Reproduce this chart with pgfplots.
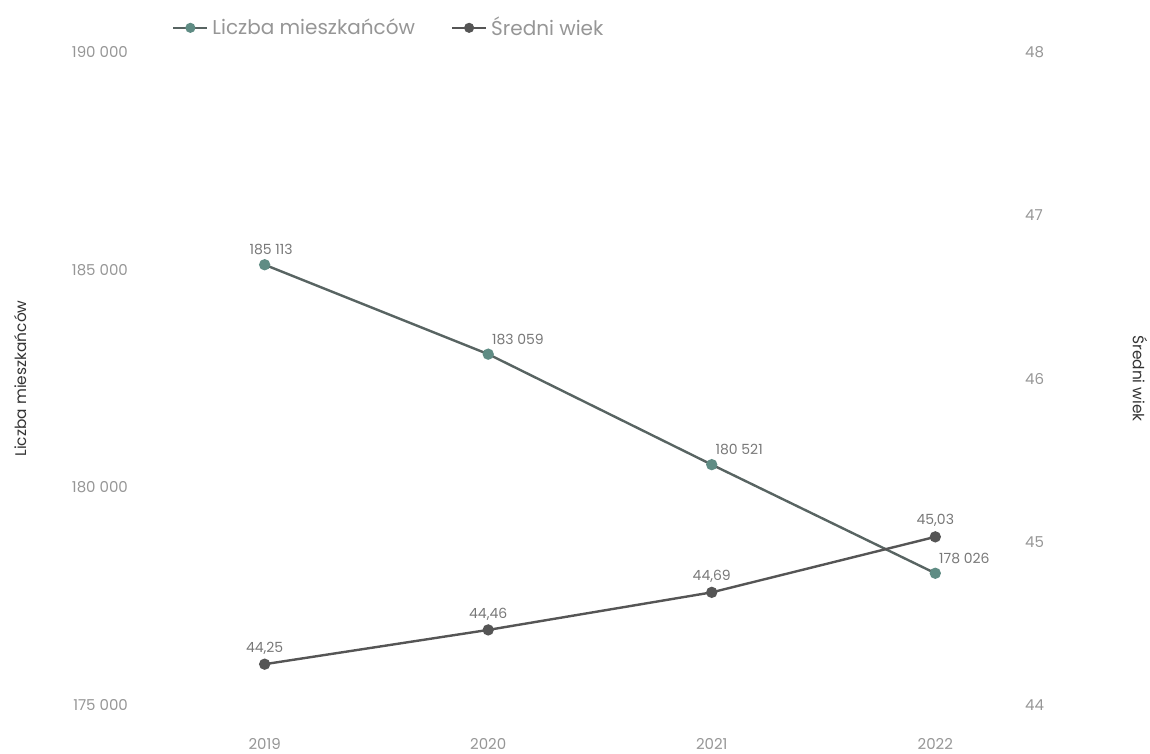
\documentclass[border=0pt]{standalone}
\usepackage{pgfplots}
\pgfplotsset{compat=1.18}
\usetikzlibrary{calc}
\usepackage{fontspec}
\setmainfont{Poppins}
\definecolor{txt}{RGB}{150,150,150}
\definecolor{lbl}{RGB}{120,120,120}
\definecolor{lineA}{RGB}{88,100,98}
\definecolor{markA}{RGB}{95,140,132}
\definecolor{lineB}{RGB}{85,85,85}
\pgfplotsset{
  base/.style={
    scale only axis, width=441.5pt, height=326.5pt,
    xmin=-0.58, xmax=3.37,
    axis line style={draw=none}, major tick length=0pt,
    scaled y ticks=false,
    tick label style={font=\fontsize{7.5}{9}\selectfont, text=txt},
    /pgf/number format/assume math mode=true,
  }
}
\begin{document}
\begin{tikzpicture}
\begin{axis}[base,
    ymin=175000, ymax=190000,
    ytick={175000,180000,185000,190000},
    yticklabels={175 000,180 000,185 000,190 000},
    xtick={0,1,2,3}, xticklabels={2019,2020,2021,2022},
    xticklabel shift=13pt,
    ylabel={Liczba mieszkańców},
    every axis y label/.style={at={(axis description cs:-0.13,0.5)}, rotate=90, anchor=center,
      font=\fontsize{7.7}{9}\selectfont, text=black!80},
    legend columns=2,
    legend style={at={(axis description cs:0.035,1.037)}, anchor=west, draw=none,
      font=\fontsize{10}{12}\selectfont, text=txt,
      /tikz/every even column/.append style={column sep=16pt}},
    legend image post style={line width=1pt, mark size=2pt},
    point meta=explicit symbolic,
    visualization depends on={value \coordindex \as \ci},
    nodes near coords,
    nodes near coords style={font=\fontsize{7}{8}\selectfont, text=lbl, anchor=south west,
      xshift={-2pt-9.5pt*(\ci==0)}, yshift=1pt},
]
\addplot[color=lineA, line width=1.2pt, mark=*, mark size=2.2pt, mark options={fill=markA, draw=markA}]
  coordinates {(0,185113) [185 113] (1,183059) [183 059] (2,180521) [180 521] (3,178026) [178 026]};
\addlegendentry{Liczba mieszkańców}
\addlegendimage{color=lineB, line width=1.2pt, mark=*, mark size=2.2pt, mark options={fill=lineB}}
\addlegendentry{Średni wiek}
\coordinate (bl) at (rel axis cs:0,0);
\coordinate (tr) at (rel axis cs:1,1);
\end{axis}
\begin{axis}[base,
    hide x axis,
    axis y line*=right,
    ymin=44, ymax=48,
    ytick={44,45,46,47,48},
    ylabel={Średni wiek},
    every axis y label/.style={at={(axis description cs:1.138,0.5)}, rotate=-90, anchor=center,
      font=\fontsize{7.7}{9}\selectfont, text=black!80},
    point meta=explicit symbolic,
    nodes near coords,
    nodes near coords style={font=\fontsize{7}{8}\selectfont, text=lbl, anchor=south, yshift=1pt},
]
\addplot[color=lineB, line width=1.2pt, mark=*, mark size=2.2pt, mark options={fill=lineB}]
  coordinates {(0,44.25) [44,25] (1,44.46) [44,46] (2,44.69) [44,69] (3,45.03) [45,03]};
\end{axis}
\pgfresetboundingbox
\path ($(bl)+(-67.5pt,-24.5pt)$) rectangle ($(tr)+(66pt,26pt)$);
\end{tikzpicture}
\end{document}
